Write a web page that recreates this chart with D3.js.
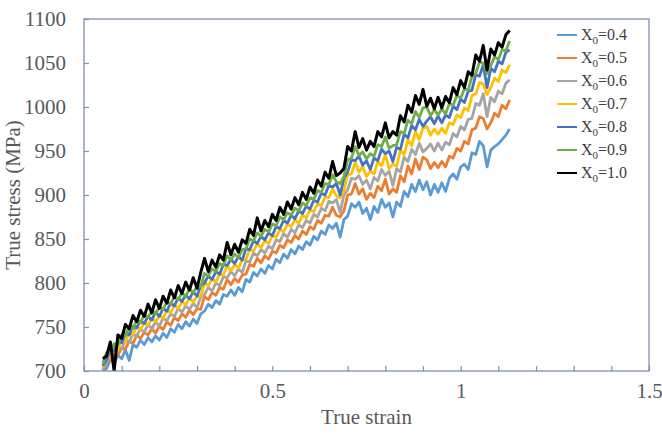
<!DOCTYPE html>
<html><head><meta charset="utf-8">
<script src="https://cdn.jsdelivr.net/npm/d3@7"></script>
<style>body{margin:0;background:#fff}</style>
</head><body><svg id="c" width="662" height="433"></svg>
<script>
const strain = [
0.05,0.06,0.07,0.08,0.09,0.10,0.11,0.12,0.13,0.14,
0.15,0.16,0.17,0.18,0.19,0.20,0.21,0.22,0.23,0.24,
0.25,0.26,0.27,0.28,0.29,0.30,0.31,0.32,0.33,0.34,
0.35,0.36,0.37,0.38,0.39,0.40,0.41,0.42,0.43,0.44,
0.45,0.46,0.47,0.48,0.49,0.50,0.51,0.52,0.53,0.54,
0.55,0.56,0.57,0.58,0.59,0.60,0.61,0.62,0.63,0.64,
0.65,0.66,0.67,0.68,0.69,0.70,0.71,0.72,0.73,0.74,
0.75,0.76,0.77,0.78,0.79,0.80,0.81,0.82,0.83,0.84,
0.85,0.86,0.87,0.88,0.89,0.90,0.91,0.92,0.93,0.94,
0.95,0.96,0.97,0.98,0.99,1.00,1.01,1.02,1.03,1.04,
1.05,1.06,1.07,1.08,1.09,1.10,1.11,1.12,1.13];

const stressX04 = [
700,703,713,709,718,714,724,712,730,727,
735,730,738,733,740,735,743,738,748,744,
753,748,756,751,759,754,765,768,776,772,
780,776,787,785,792,786,795,790,804,801,
812,808,816,811,820,816,827,823,833,828,
838,833,842,838,847,843,853,849,859,855,
866,862,868,852,872,876,890,886,892,879,
885,872,887,880,895,886,891,875,892,887,
904,898,912,904,917,906,915,900,912,903,
914,904,919,924,918,932,935,929,948,946,
961,956,932,951,955,958,963,968,975];

const stressX05 = [
701,711,712,720,718,726,725,734,731,741,
737,744,741,748,743,751,747,756,752,761,
757,765,761,769,764,771,770,785,781,789,
786,795,793,804,798,805,801,809,810,821,
819,828,823,831,827,836,834,843,840,849,
846,854,850,859,855,864,861,871,868,877,
876,886,877,875,882,900,901,913,901,907,
895,902,897,910,905,918,901,907,903,922,
915,933,924,941,929,943,940,930,937,931,
938,932,944,942,953,950,961,958,974,976,
989,987,975,982,993,989,1002,998,1008];

const stressX06 = [
702,709,720,718,727,725,735,733,742,740,
748,744,753,748,756,751,760,757,765,762,
771,767,774,770,777,772,784,787,795,791,
800,797,807,806,813,808,816,812,825,824,
834,831,838,834,842,839,849,847,856,852,
861,857,866,863,871,868,878,875,885,882,
893,891,895,880,900,906,919,918,922,912,
917,907,920,916,929,922,927,911,930,926,
943,938,952,946,959,949,953,958,950,959,
951,960,957,970,966,978,974,986,987,1004,
1002,1015,989,1011,1006,1018,1015,1027,1031];

const stressX07 = [
704,716,717,727,725,735,733,744,741,751,
747,755,752,760,756,763,760,769,766,775,
771,779,775,783,778,785,785,800,797,805,
801,810,809,820,814,821,817,826,827,838,
836,845,840,848,845,854,852,861,858,867,
864,872,868,877,874,883,881,890,888,898,
897,907,899,897,905,923,924,937,926,932,
921,927,924,938,933,946,930,935,933,951,
946,963,956,972,963,976,978,968,975,969,
976,970,982,980,991,988,999,996,1013,1015,
1028,1026,1014,1022,1033,1029,1042,1039,1048];

const stressX08 = [
706,713,725,723,734,732,743,741,751,749,
757,754,762,758,767,762,771,768,777,774,
783,779,786,782,790,785,797,800,808,804,
813,810,821,820,827,822,830,826,839,838,
848,845,853,849,857,854,864,862,871,868,
877,873,882,879,887,884,894,892,902,900,
911,909,913,900,919,926,940,939,944,934,
939,929,942,939,952,947,950,938,954,952,
969,965,979,974,986,978,984,989,981,990,
982,991,988,1001,997,1009,1005,1018,1019,1037,
1035,1048,1022,1044,1040,1052,1049,1062,1065];

const stressX09 = [
708,721,722,731,730,741,740,751,748,758,
755,764,761,768,765,773,770,779,776,785,
781,789,785,793,789,796,796,811,808,816,
813,822,820,831,826,833,829,838,839,850,
848,857,853,861,858,867,865,875,872,880,
877,885,882,891,888,897,895,905,903,913,
912,923,915,913,921,940,942,955,945,949,
941,947,944,957,955,966,953,956,957,972,
970,985,981,995,988,999,1000,990,997,991,
998,992,1004,1002,1013,1010,1021,1019,1035,1038,
1051,1050,1038,1047,1057,1054,1065,1064,1075];

const stressX10 = [
714,717,733,700,741,737,753,748,763,756,
769,762,776,766,781,771,785,777,792,783,
797,788,801,792,806,794,812,828,813,826,
818,832,826,846,832,844,835,849,845,861,
854,874,859,871,864,878,871,886,878,892,
884,897,889,903,895,909,902,917,910,926,
919,938,922,925,930,955,950,972,954,964,
951,961,955,972,966,982,965,972,968,990,
983,1002,994,1013,1003,1020,1001,1010,998,1011,
999,1012,1005,1022,1014,1030,1022,1040,1036,1059,
1052,1070,1042,1066,1059,1073,1068,1082,1087];

const seriesLabels = ["0.4","0.5","0.6","0.7","0.8","0.9","1.0"];
const seriesColors = ["#5B9BD5","#ED7D31","#A5A5A5","#FFC000","#4472C4","#70AD47","#000000"];
const seriesValues = [stressX04,stressX05,stressX06,stressX07,stressX08,stressX09,stressX10];

const xTickLabels = [0,0.5,1,1.5];
const xMinorTicks = [0,0.1,0.2,0.3,0.4,0.5,0.6,0.7,0.8,0.9,1.0,1.1,1.2,1.3,1.4,1.5];
const yTickLabels = [700,750,800,850,900,950,1000,1050,1100];

const svg = d3.select("#c");
const L=84, R=649, T=19, B=371;
const x = d3.scaleLinear().domain([0,1.5]).range([L,R]);
const y = d3.scaleLinear().domain([700,1100]).range([B,T]);
const axisCol = "#7f8fb0";
const font = "'Liberation Serif','Times New Roman',serif";

svg.append("defs").append("clipPath").attr("id","clip")
  .append("rect").attr("x",L).attr("y",T).attr("width",R-L).attr("height",B-T);

// series
const line = d3.line().x((d,i)=>x(strain[i])).y(d=>y(d));
const g = svg.append("g").attr("clip-path","url(#clip)");
seriesValues.forEach((vals,k)=>{
  g.append("path").datum(vals).attr("d",line)
   .attr("fill","none").attr("stroke",seriesColors[k])
   .attr("stroke-width",k===6?3:2.8).attr("stroke-linejoin","round");
});

// frame
svg.append("rect").attr("x",L).attr("y",T).attr("width",R-L).attr("height",B-T)
  .attr("fill","none").attr("stroke",axisCol).attr("stroke-width",1.3);

// x axis ticks (inward)
const xAx = svg.append("g").attr("transform",`translate(0,${B})`)
  .call(d3.axisBottom(x).tickValues(xMinorTicks).tickSize(-5).tickFormat(""));
xAx.select(".domain").remove();
xAx.selectAll("line").attr("stroke",axisCol).attr("stroke-width",1.2);

const xLab = svg.append("g").attr("transform",`translate(0,${B})`)
  .call(d3.axisBottom(x).tickValues(xTickLabels).tickSize(0).tickPadding(12).tickFormat(d=>String(d)));
xLab.select(".domain").remove();
xLab.selectAll("text").attr("font-family",font).attr("font-size",21).attr("fill","#595959");

// y axis
const yAx = svg.append("g").attr("transform",`translate(${L},0)`)
  .call(d3.axisLeft(y).tickValues(yTickLabels).tickSize(-5).tickPadding(18).tickFormat(d=>String(d)));
yAx.select(".domain").remove();
yAx.selectAll("line").attr("stroke",axisCol).attr("stroke-width",1.2);
yAx.selectAll("text").attr("font-family",font).attr("font-size",21).attr("fill","#595959");

// titles
svg.append("text").attr("x",(L+R)/2).attr("y",424).attr("text-anchor","middle")
  .attr("font-family",font).attr("font-size",21).attr("fill","#595959").text("True strain");
svg.append("text").attr("transform",`translate(20,${(T+B)/2}) rotate(-90)`).attr("text-anchor","middle")
  .attr("font-family",font).attr("font-size",21).attr("fill","#595959").text("True stress (MPa)");

// legend
const leg = svg.append("g");
seriesLabels.forEach((lab,i)=>{
  const yy = 35 + i*23;
  leg.append("line").attr("x1",557).attr("x2",577).attr("y1",yy).attr("y2",yy)
    .attr("stroke",seriesColors[i]).attr("stroke-width",2);
  const t = leg.append("text").attr("x",581).attr("y",yy+5)
    .attr("font-family",font).attr("font-size",16).attr("fill","#404040");
  t.append("tspan").text("X");
  t.append("tspan").attr("font-size",11).attr("dy",4).text("0");
  t.append("tspan").attr("dy",-4).text("=" + lab);
});
</script></body></html>
